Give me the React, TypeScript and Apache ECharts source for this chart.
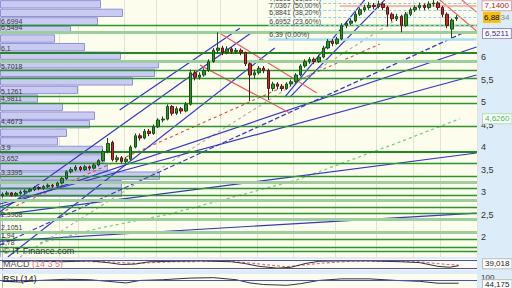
import React, { useEffect, useRef } from "react";
import * as echarts from "echarts";

// ---------- data ----------
const dayLabels: string[] = Array.from({ length: 104 }, (_, i) => "J" + (i + 1));

// [open, close, low, high]
const candles: number[][] = [
  [2.92, 2.95, 2.88, 2.99], [2.95, 2.98, 2.92, 3.02], [2.98, 2.93, 2.90, 3.00], [2.93, 2.97, 2.90, 3.00],
  [2.97, 3.00, 2.94, 3.04], [3.00, 3.02, 2.96, 3.06], [3.02, 3.05, 2.99, 3.09], [3.05, 3.10, 3.02, 3.13],
  [3.10, 3.08, 3.04, 3.13], [3.08, 3.12, 3.05, 3.16], [3.12, 3.15, 3.09, 3.19], [3.15, 3.13, 3.09, 3.18],
  [3.13, 3.20, 3.10, 3.23], [3.20, 3.30, 3.17, 3.33], [3.30, 3.45, 3.27, 3.48], [3.45, 3.50, 3.41, 3.55],
  [3.50, 3.55, 3.46, 3.60], [3.55, 3.50, 3.46, 3.58], [3.50, 3.56, 3.47, 3.60], [3.56, 3.53, 3.48, 3.59],
  [3.53, 3.60, 3.50, 3.64], [3.60, 3.70, 3.57, 3.73], [3.70, 3.90, 3.67, 3.94], [3.90, 4.08, 3.86, 4.20],
  [4.10, 3.72, 3.68, 4.14], [3.72, 3.76, 3.66, 3.82], [3.76, 3.68, 3.64, 3.80], [3.68, 3.73, 3.64, 3.78],
  [3.73, 4.00, 3.70, 4.04], [4.00, 4.25, 3.97, 4.30], [4.25, 4.20, 4.14, 4.30], [4.20, 4.35, 4.17, 4.40],
  [4.35, 4.30, 4.24, 4.40], [4.30, 4.45, 4.27, 4.50], [4.45, 4.60, 4.42, 4.64], [4.60, 4.62, 4.55, 4.68],
  [4.62, 4.90, 4.59, 4.95], [4.90, 4.75, 4.70, 4.93], [4.75, 4.85, 4.71, 4.90], [4.85, 4.80, 4.74, 4.89],
  [4.80, 4.95, 4.77, 5.00], [4.95, 5.65, 4.92, 5.72], [5.65, 5.55, 5.48, 5.70], [5.55, 5.60, 5.50, 5.66],
  [5.60, 5.70, 5.56, 5.75], [5.70, 5.90, 5.67, 5.95], [5.90, 6.15, 5.87, 6.20], [6.15, 6.20, 6.08, 6.55],
  [6.20, 6.10, 6.04, 6.25], [6.10, 6.18, 6.06, 6.24], [6.18, 6.12, 6.07, 6.22], [6.12, 6.15, 6.08, 6.20],
  [6.15, 6.10, 6.04, 6.19], [6.10, 5.85, 5.80, 6.12], [5.85, 5.60, 5.02, 5.88], [5.60, 5.65, 5.52, 5.72],
  [5.65, 5.75, 5.61, 5.80], [5.75, 5.70, 5.64, 5.80], [5.70, 5.30, 5.05, 5.74], [5.30, 5.40, 5.24, 5.45],
  [5.40, 5.35, 5.28, 5.44], [5.35, 5.30, 5.24, 5.40], [5.30, 5.40, 5.27, 5.44], [5.40, 5.45, 5.35, 5.50],
  [5.45, 5.60, 5.42, 5.64], [5.60, 5.80, 5.57, 5.84], [5.80, 5.90, 5.76, 5.95], [5.90, 5.95, 5.85, 6.00],
  [5.95, 5.90, 5.84, 5.99], [5.90, 6.00, 5.87, 6.05], [6.00, 6.20, 5.97, 6.25], [6.20, 6.35, 6.17, 6.40],
  [6.35, 6.30, 6.24, 6.40], [6.30, 6.40, 6.27, 6.45], [6.40, 6.70, 6.37, 6.75], [6.70, 6.75, 6.64, 6.80],
  [6.75, 6.80, 6.70, 6.86], [6.80, 6.95, 6.77, 7.00], [6.95, 7.05, 6.91, 7.10], [7.05, 7.10, 7.00, 7.16],
  [7.10, 7.15, 7.05, 7.22], [7.15, 7.12, 7.06, 7.20], [7.12, 7.18, 7.08, 7.25], [7.18, 7.10, 7.04, 7.22],
  [7.10, 6.95, 6.68, 7.14], [6.95, 6.85, 6.79, 6.99], [6.85, 6.90, 6.80, 6.96], [6.90, 6.70, 6.55, 6.94],
  [6.70, 6.95, 6.67, 7.00], [6.95, 7.05, 6.91, 7.10], [7.05, 7.10, 7.00, 7.15], [7.10, 7.15, 7.05, 7.21],
  [7.15, 7.10, 7.04, 7.19], [7.10, 7.18, 7.06, 7.24], [7.18, 7.20, 7.12, 7.28], [7.20, 7.10, 7.04, 7.24],
  [7.10, 6.95, 6.88, 7.14], [6.95, 6.70, 6.64, 6.99], [6.62, 6.82, 6.42, 6.86], [6.85, 6.88, 6.80, 6.93],
];

const monthStarts = [13, 17, 27, 34, 43, 48, 56, 64, 73, 82, 90, 96];

// volume-at-price profile (top bin first)
const profilePrices = ["7.17", "6.98", "6.79", "6.60", "6.41", "6.22", "6.03", "5.84", "5.65", "5.46",
  "5.27", "5.08", "4.89", "4.70", "4.51", "4.32", "4.13", "3.94", "3.75", "3.56",
  "3.37", "3.18", "2.99", "2.80", "2.61", "2.42", "2.23", "2.04", "1.85", "1.66"];
const profileVolumes = [101, 123, 98, 71, 55, 85, 121, 159, 155, 133,
  78, 38, 63, 95, 90, 67, 58, 103, 105, 108,
  160, 122, 122, 0, 0, 0, 0, 0, 0, 0];

// horizontal support / resistance levels
const levelValues = [6.6994, 6.5494, 6.1, 5.91, 5.7018, 5.53, 5.1261, 4.9811, 4.4673, 3.9, 3.652, 3.3395,
  3.22, 3.09, 2.93, 2.82, 2.67, 2.53, 2.3968, 2.1051, 1.94, 1.78, 1.69];
const levelLabels = ["6,6994", "6,5494", "6,1", "", "5,7018", "", "5,1261", "4,9811", "4,4673", "3,9", "3,652", "3,3395",
  "", "", "", "", "", "", "2,3968", "2,1051", "1,94", "1,78", ""];
const levelKind = ["d", "l", "t", "l", "d", "d", "d", "d", "d", "t", "d", "d",
  "l", "d", "d", "l", "d", "d", "l", "l", "d", "d", "d"];

// Fibonacci retracement
const fibValues = [7.1893, 7.0367, 6.8841, 6.6952, 6.39];
const fibRatios = ["61,80%", "50,00%", "38,20%", "23,60%", "0,00%"];
const fibStart = 58;

// trend lines [index, price]
const blueLines: number[][][] = [
  [[-0.5, 2.56], [54.6, 6.56]],
  [[25.6, 4.82], [51.8, 6.64]],
  [[1.2, 1.556], [59.4, 6.2]],
  [[61.6, 5.11], [79.0, 7.27]],
  [[62.7, 5.11], [83.4, 7.27]],
  [[-0.5, 2.667], [103.4, 6.222]],
  [[-0.5, 2.733], [103.4, 5.6]],
  [[-0.5, 2.49], [103.4, 3.867]],
  [[-0.5, 1.91], [103.4, 2.533]],
];
const redLines: number[][][] = [
  [[47.0, 6.556], [68.6, 5.2]],
  [[43.1, 5.82], [62.7, 4.756]],
  [[95.4, 7.267], [103.4, 6.578]],
  [[100.2, 7.267], [103.4, 7.0]],
];
const redDashed = [[-0.5, 2.533], [82.3, 6.289]];
const grayDashed = [[3.86, 1.556], [91.0, 7.156]];
const blueDashed = [[-0.5, 1.822], [100.4, 6.533]];
const greenDashed = [[8.2, 1.867], [21.3, 2.2], [36.5, 2.511], [64.2, 3.267], [86.6, 4.111], [99.7, 4.626]];

const lastClose = 6.88;
const resistanceTag = 7.14;
const supportTag = 6.5211;
const greenTag = 4.626;

// oscillators [index, value]
const macdLine = [[0, 75], [6, 83], [13, 75], [19, 83], [23, 67], [26, 50], [29, 54], [32, 75], [37, 79], [43, 83],
  [50, 75], [53, 58], [56, 33], [60, 17], [63, 25], [66, 58], [69, 79], [74, 83], [80, 83], [87, 75],
  [91, 67], [95, 33], [97.5, 25], [99.5, 39.018]];
const macdSignal = [[0, 80], [13, 80], [23, 75], [29, 60], [37, 75], [50, 80], [56, 55], [62, 30], [69, 60],
  [76, 80], [90, 78], [97, 50], [99.5, 45]];
const macdBands = [91.7, 16.7];
const rsiLine = [[0, 62], [4, 55], [8, 70], [14, 81], [19, 77], [23, 62], [27, 47], [30, 70], [35, 77], [41, 92],
  [46, 96], [51, 77], [54, 47], [57, 32], [62, 25], [65, 40], [69, 70], [74, 85], [80, 85], [86, 70],
  [91, 62], [95, 44], [99.5, 44.175]];
const rsiBands = [70];
const priceTicks = [2, 2.5, 3, 3.5, 4, 4.5, 5, 5.5, 6];

// ---------- chart ----------
const comma = (v: number) => String(v).replace(".", ",");
const HIDDEN_LINE = { color: "rgba(0,0,0,0)", width: 0 };

function lineSeries(data: number[][], color: string, width: number, type: any, z: number, extra: any = {}) {
  return {
    type: "line", xAxisIndex: 1, yAxisIndex: 0, data, symbol: "none", silent: true, z,
    lineStyle: { color, width, type }, ...extra,
  };
}

export default function App() {
  const ref = useRef<HTMLDivElement>(null);
  useEffect(() => {
    if (!ref.current) return;
    const chart = echarts.init(ref.current, undefined, { renderer: "svg" });
    const font = "Liberation Sans, Arial, sans-serif";

    const levelStyle = (k: string) =>
      k === "t" ? { color: "#1f8a1f", width: 2.2, type: "solid" } :
      k === "l" ? { color: "#9ccf9c", width: 3, type: "solid" } :
      { color: "#2a962a", width: 1.3, type: "solid" };

    const levelMark = {
      symbol: "none", silent: true, animation: false,
      data: levelValues.map((v, i) => ({
        yAxis: v,
        lineStyle: levelStyle(levelKind[i]),
        label: {
          show: levelLabels[i] !== "", formatter: levelLabels[i], position: "insideStartTop",
          distance: 1, color: "#3a3a3a", fontSize: 7, fontFamily: font,
        },
      })),
    };

    const fibMark = {
      symbol: "none", silent: true, animation: false,
      data: fibValues.map((v, i) => [
        {
          coord: [fibStart, v],
          lineStyle: i === fibValues.length - 1 ? { color: "#a8dcf6", width: 2.5, type: "solid" } : { color: "#8ccdf0", width: 1, type: [3, 2] },
          label: {
            show: true, position: "insideStartTop", distance: 1, fontSize: 7, color: "#444", fontFamily: font,
            formatter: comma(v) + " (" + fibRatios[i] + ")",
          },
        },
        { coord: [103.4, v] },
      ]),
    };

    const tagLabel = (text: string, color: string, border: string, bg: string, extra: any = {}) => ({
      show: true, position: "end", distance: 6, formatter: text, color, fontSize: 8, fontFamily: font,
      backgroundColor: bg, borderColor: border, borderWidth: 1, padding: [1, 2, 0, 2], ...extra,
    });

    const tagMark = {
      symbol: "none", silent: true, animation: false,
      data: [
        [
          { coord: [73.6, resistanceTag], lineStyle: { color: "#f4a0a0", width: 1.5, type: "solid" },
            label: tagLabel(resistanceTag.toFixed(4).replace(".", ","), "#b02020", "#e0a0a0", "#ffffff") },
          { coord: [103.4, resistanceTag] },
        ],
        {
          yAxis: lastClose, lineStyle: HIDDEN_LINE,
          label: {
            show: true, position: "end", distance: 6, fontFamily: font, fontSize: 8,
            formatter: "{y|" + comma(lastClose) + "}{g|34}",
            rich: {
              y: { backgroundColor: "#f3c200", color: "#000", padding: [2, 1, 1, 1], fontSize: 8, fontFamily: font },
              g: { color: "#8a8a8a", fontSize: 8, fontFamily: font },
            },
          },
        },
        { yAxis: supportTag, lineStyle: HIDDEN_LINE, label: tagLabel(supportTag.toFixed(4).replace(".", ","), "#2a2a9a", "#9090d0", "#ffffff") },
        { yAxis: greenTag, lineStyle: HIDDEN_LINE, label: tagLabel(greenTag.toFixed(4).replace(".", ","), "#3cbf3c", "#b0e0b0", "#ffffff") },
      ],
    };

    const series: any[] = [
      {
        type: "bar", xAxisIndex: 2, yAxisIndex: 1, data: profileVolumes, silent: true, z: 1,
        barCategoryGap: "3%",
        itemStyle: { color: "#cacbf3", borderColor: "#9292d2", borderWidth: 1 },
      },
      lineSeries(blueLines[8], "#3434d8", 1.2, "solid", 3, { markLine: levelMark }),
      lineSeries(blueDashed, "#3a3ac8", 1.2, "dashed", 3, { markLine: fibMark }),
      lineSeries(greenDashed, "#78d078", 1.3, [3, 3], 3, { markLine: tagMark }),
      lineSeries(redDashed, "#d84a4a", 1.1, [3, 3], 3),
      lineSeries(grayDashed, "#a8a8a8", 1.1, [3, 3], 3),
      ...blueLines.slice(0, 8).map((d) => lineSeries(d, "#3434d8", 1.2, "solid", 3)),
      ...redLines.map((d) => lineSeries(d, "#f06060", 1.2, "solid", 3)),
      {
        type: "candlestick", xAxisIndex: 0, yAxisIndex: 0, data: candles, barWidth: 3, z: 5, silent: true,
        itemStyle: { color: "#1f9d1f", color0: "#c42a2a", borderColor: "#1b4d1b", borderColor0: "#5a1414", borderWidth: 1 },
      },
      {
        type: "line", xAxisIndex: 3, yAxisIndex: 2, data: macdSignal, symbol: "none", silent: true, z: 3,
        lineStyle: { color: "#e07070", width: 1.2, type: [3, 2] },
        markLine: {
          symbol: "none", silent: true, animation: false,
          data: macdBands.map((v) => ({ yAxis: v, lineStyle: { color: "#4a4ad8", width: 1, type: "solid" }, label: { show: false } })),
        },
      },
      {
        type: "line", xAxisIndex: 3, yAxisIndex: 2, data: macdLine, symbol: "none", silent: true, z: 4,
        lineStyle: { color: "#333", width: 1 },
        markLine: {
          symbol: "none", silent: true, animation: false,
          data: [{ yAxis: macdLine[macdLine.length - 1][1], lineStyle: HIDDEN_LINE,
            label: tagLabel(comma(macdLine[macdLine.length - 1][1]), "#222", "#bbb", "#fff", { offset: [0, -2] }) }],
        },
      },
      {
        type: "line", xAxisIndex: 4, yAxisIndex: 3, data: rsiLine, symbol: "none", silent: true, z: 4,
        lineStyle: { color: "#333", width: 1 },
        markLine: {
          symbol: "none", silent: true, animation: false,
          data: [
            ...rsiBands.map((v) => ({ yAxis: v, lineStyle: { color: "#4a4ad8", width: 1, type: "solid" }, label: { show: false } })),
            { yAxis: rsiLine[rsiLine.length - 1][1], lineStyle: HIDDEN_LINE,
              label: tagLabel(comma(rsiLine[rsiLine.length - 1][1]), "#222", "#bbb", "#fff", { padding: [0, 2, 0, 2], offset: [0, 1] }) },
          ],
        },
      },
    ];

    const hiddenVal = (grid: number, min: number, max: number) => ({
      type: "value", gridIndex: grid, min, max, show: false,
    });

    chart.setOption({
      animation: false,
      backgroundColor: "#dcecf8",
      textStyle: { fontFamily: font },
      grid: [
        { left: 0, top: 0, width: 477, height: 257, show: true, backgroundColor: "#fdfdee", borderWidth: 0 },
        { left: 0, top: 259, width: 477, height: 11, show: true, backgroundColor: "#fdfdee", borderWidth: 0 },
        { left: 0, top: 274, width: 477, height: 17.3, show: true, backgroundColor: "#fdfdee", borderWidth: 0 },
      ],
      xAxis: [
        {
          type: "category", gridIndex: 0, data: dayLabels, boundaryGap: true,
          axisLine: { show: false }, axisTick: { show: false }, axisLabel: { show: false },
          splitLine: { show: true, interval: (i: number) => monthStarts.includes(i), lineStyle: { color: "#e3e3d3", width: 1 } },
        },
        hiddenVal(0, -0.5, 103.5),
        hiddenVal(0, 0, 477),
        hiddenVal(1, -0.5, 103.5),
        hiddenVal(2, -0.5, 103.5),
      ],
      yAxis: [
        {
          type: "value", gridIndex: 0, position: "right", min: 1.556, max: 7.267,
          axisLine: { show: true, lineStyle: { color: "#a9b9c9" } },
          axisTick: { show: true, length: 3, customValues: priceTicks, lineStyle: { color: "#555" } },
          axisLabel: { customValues: priceTicks, formatter: (v: number) => comma(v), color: "#333", fontSize: 9, margin: 4, fontFamily: font },
          splitLine: { show: false },
        },
        { type: "category", gridIndex: 0, inverse: true, data: profilePrices, show: false },
        {
          type: "value", gridIndex: 1, position: "right", min: 0, max: 100,
          axisLine: { show: true, lineStyle: { color: "#a9b9c9" } }, axisTick: { show: false }, axisLabel: { show: false }, splitLine: { show: false },
        },
        {
          type: "value", gridIndex: 2, position: "right", min: 0, max: 130,
          axisLine: { show: true, lineStyle: { color: "#a9b9c9" } },
          axisTick: { show: true, length: 3, customValues: [100] },
          axisLabel: { customValues: [100], color: "#333", fontSize: 8, margin: 4, fontFamily: font },
          splitLine: { show: false },
        },
      ],
      graphic: [
        { type: "text", left: 3, top: 246, z: 10, style: { text: "© IT-Finance.com", fill: "#333", fontSize: 9, fontFamily: font } },
        {
          type: "text", left: 3, top: 259, z: 10,
          style: {
            text: "{a|MACD} {b|(14 3 5)}", fontSize: 9, fontFamily: font,
            rich: { a: { fill: "#555", fontSize: 9, fontFamily: font }, b: { fill: "#e07878", fontSize: 9, fontFamily: font } },
          },
        },
        { type: "text", left: 3, top: 274, z: 10, style: { text: "RSI (14)", fill: "#222", fontSize: 9, fontFamily: font } },
      ],
      series,
    });
    return () => chart.dispose();
  }, []);

  return <div ref={ref} style={{ position: "fixed", left: 0, top: 0, width: 512, height: 288 }} />;
}
